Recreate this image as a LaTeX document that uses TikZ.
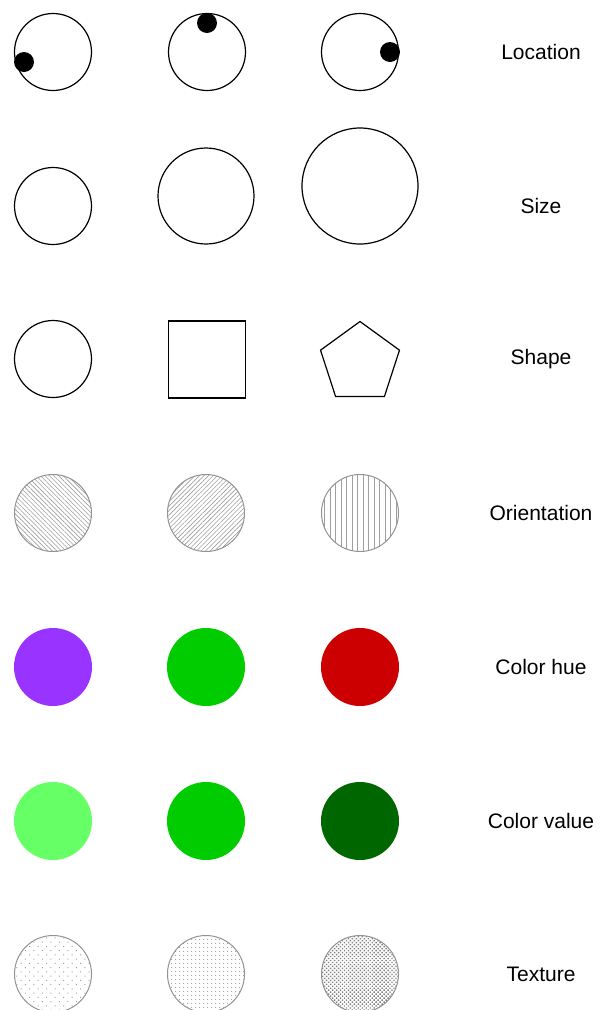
\documentclass[tikz,border=0pt]{standalone}
\usepackage{fontspec}
\setmainfont{Liberation Sans}
\usetikzlibrary{patterns.meta,shapes.geometric}
\definecolor{hpurple}{HTML}{9933FF}
\definecolor{hgreen}{HTML}{00CC00}
\definecolor{hred}{HTML}{CC0000}
\definecolor{lgreen}{HTML}{66FF66}
\definecolor{dgreen}{HTML}{006600}
\tikzset{
  ring/.style={circle,draw=black,line width=1.2pt,minimum size=77pt,inner sep=0pt},
  dotmark/.style={circle,fill=black,minimum size=20pt,inner sep=0pt},
  hatch/.style={circle,draw=gray!85,line width=1pt,minimum size=77pt,inner sep=0pt,pattern color=gray!75},
  filled/.style={circle,minimum size=78pt,inner sep=0pt},
  lbl/.style={font=\fontsize{21}{25}\selectfont,anchor=center}
}
\begin{document}
\begin{tikzpicture}[x=1pt,y=-1pt]
\useasboundingbox (0,0) rectangle (601,1010);
% Location
\node[ring] (l1) at (53,52) {};
\node[ring] (l2) at (207,52) {};
\node[ring] (l3) at (360,52) {};
\node[dotmark] (d1) at (24,62) {};
\node[dotmark] (d2) at (207,23) {};
\node[dotmark] (d3) at (390,52) {};
\node[lbl] (tl) at (541,52) {Location};
% Size
\node[ring] (s1) at (53,206) {};
\node[ring,minimum size=96pt] (s2) at (206,196) {};
\node[ring,minimum size=116pt] (s3) at (360,186) {};
\node[lbl] (ts) at (541,206) {Size};
% Shape
\node[ring] (h1) at (53,359) {};
\node[draw=black,line width=1.2pt,minimum size=77pt,inner sep=0pt] (h2) at (207,359.5) {};
\node[regular polygon,regular polygon sides=5,draw=black,line width=1.2pt,minimum size=83pt,inner sep=0pt] (h3) at (360,363) {};
\node[lbl] (th) at (541,359) {Shape};
% Orientation
\node[hatch,pattern={Lines[angle=-45,distance=3.2pt,line width=0.6pt]}] (o1) at (53,513) {};
\node[hatch,pattern={Lines[angle=45,distance=3.2pt,line width=0.6pt]}] (o2) at (206,513) {};
\node[hatch,pattern={Lines[angle=90,distance=5.5pt,line width=0.7pt]}] (o3) at (360,513) {};
\node[lbl] (to) at (541,513) {Orientation};
% Color hue
\node[filled,fill=hpurple] (c1) at (53,667) {};
\node[filled,fill=hgreen] (c2) at (206,667) {};
\node[filled,fill=hred] (c3) at (360,667) {};
\node[lbl] (tc) at (541,667) {Color hue};
% Color value
\node[filled,fill=lgreen] (v1) at (53,821) {};
\node[filled,fill=hgreen] (v2) at (206,821) {};
\node[filled,fill=dgreen] (v3) at (360,821) {};
\node[lbl] (tv) at (541,821) {Color value};
% Texture
\node[hatch,pattern={Dots[radius=0.7pt,distance=6pt,angle=45]}] (x1) at (53,974) {};
\node[hatch,pattern={Dots[radius=0.7pt,distance=4pt]}] (x2) at (206,974) {};
\node[hatch,pattern={Dots[radius=1pt,distance=2.8pt,angle=45]},pattern color=gray] (x3) at (360,974) {};
\node[lbl] (tx) at (541,974) {Texture};
\end{tikzpicture}
\end{document}
